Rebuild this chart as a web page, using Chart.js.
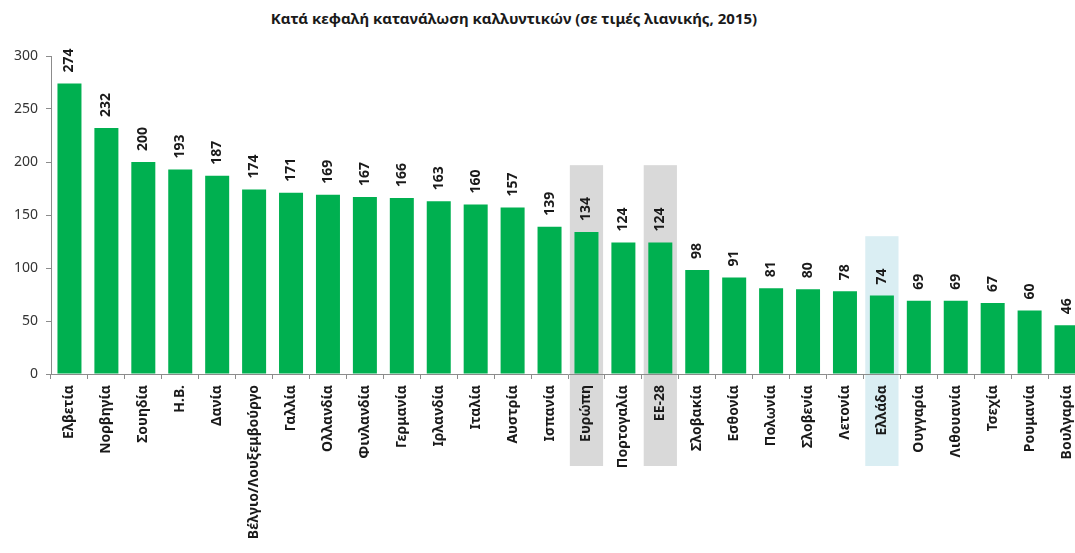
<!DOCTYPE html>
<html>
<head>
<meta charset="utf-8">
<script src="https://cdn.jsdelivr.net/npm/chart.js@4.4.1/dist/chart.umd.min.js"></script>
<style>
    html, body { margin: 0; padding: 0; background: #fff; overflow: hidden; }
    .wrap { position: relative; width: 1090px; height: 553px; }
    .title {
        position: absolute; top: 8px; left: 0; width: 1028px;
        text-align: center; font: bold 15px "Noto Sans", sans-serif; color: #1a1a1a;
    }
    canvas { position: absolute; top: 0; left: 0; }
</style>
</head>
<body>
<div class="wrap">
    <div class="title">Κατά κεφαλή κατανάλωση καλλυντικών (σε τιμές λιανικής, 2015)</div>
    <canvas id="chart" width="1090" height="553"></canvas>
</div>
<script>
const categories = [
    'Ελβετία', 'Νορβηγία', 'Σουηδία', 'Η.Β.', 'Δανία', 'Βέλγιο/Λουξεμβούργο', 'Γαλλία',
    'Ολλανδία', 'Φινλανδία', 'Γερμανία', 'Ιρλανδία', 'Ιταλία', 'Αυστρία', 'Ισπανία',
    'Ευρώπη', 'Πορτογαλία', 'ΕΕ-28', 'Σλοβακία', 'Εσθονία', 'Πολωνία', 'Σλοβενία',
    'Λετονία', 'Ελλάδα', 'Ουγγαρία', 'Λιθουανία', 'Τσεχία', 'Ρουμανία', 'Βουλγαρία'
];
const values = [274, 232, 200, 193, 187, 174, 171, 169, 167, 166, 163, 160, 157, 139,
    134, 124, 124, 98, 91, 81, 80, 78, 74, 69, 69, 67, 60, 46];
const yTicks = [0, 50, 100, 150, 200, 250, 300];

// shaded boxes behind a few categories (top given in axis units)
const highlights = [
    { category: 'Ευρώπη', top: 197, color: '#d9d9d9' },
    { category: 'ΕΕ-28', top: 197, color: '#d9d9d9' },
    { category: 'Ελλάδα', top: 130, color: '#daeef3' }
];

const FONT = '"Noto Sans", sans-serif';

const highlightPlugin = {
    id: 'highlights',
    beforeDraw(chart) {
        const { ctx, scales: { x, y } } = chart;
        const step = x.width / categories.length;
        ctx.save();
        highlights.forEach(h => {
            const i = categories.indexOf(h.category);
            const cx = x.getPixelForValue(i);
            const top = y.getPixelForValue(h.top);
            ctx.fillStyle = h.color;
            ctx.fillRect(cx - step * 0.45, top, step * 0.9, y.bottom + 92 - top);
        });
        ctx.restore();
    }
};

const valueLabels = {
    id: 'valueLabels',
    afterDatasetsDraw(chart) {
        const ctx = chart.ctx;
        const meta = chart.getDatasetMeta(0);
        ctx.save();
        ctx.font = 'bold 14px ' + FONT;
        ctx.fillStyle = '#1a1a1a';
        ctx.textAlign = 'left';
        ctx.textBaseline = 'middle';
        meta.data.forEach((bar, i) => {
            ctx.save();
            ctx.translate(bar.x, bar.y - 11);
            ctx.rotate(-Math.PI / 2);
            ctx.fillText(values[i], 0, 0);
            ctx.restore();
        });
        ctx.restore();
    }
};

new Chart(document.getElementById('chart'), {
    type: 'bar',
    data: {
        labels: categories,
        datasets: [{
            data: values,
            backgroundColor: '#00b050',
            borderWidth: 0,
            categoryPercentage: 1,
            barPercentage: 0.65
        }]
    },
    plugins: [highlightPlugin, valueLabels],
    options: {
        responsive: false,
        animation: false,
        layout: { padding: { top: 56, right: 5, left: 0, bottom: 0 } },
        plugins: { legend: { display: false }, tooltip: { enabled: false } },
        scales: {
            x: {
                afterFit: s => { s.height = 179; },
                border: { color: '#8c8c8c', width: 1 },
                grid: { drawOnChartArea: false, drawTicks: true, tickLength: 5, color: '#8c8c8c', offset: true },
                ticks: {
                    autoSkip: false, minRotation: 90, maxRotation: 90, padding: 6,
                    color: '#1a1a1a', font: { family: FONT, size: 14, weight: 'bold' }
                }
            },
            y: {
                min: 0, max: 300,
                afterFit: s => { s.width = 51; },
                afterBuildTicks: s => { s.ticks = yTicks.map(v => ({ value: v })); },
                border: { color: '#8c8c8c', width: 1 },
                grid: { drawOnChartArea: false, drawTicks: true, tickLength: 5, color: '#8c8c8c' },
                ticks: { padding: 8, color: '#333', font: { family: FONT, size: 14 } }
            }
        }
    }
});
</script>
</body>
</html>
